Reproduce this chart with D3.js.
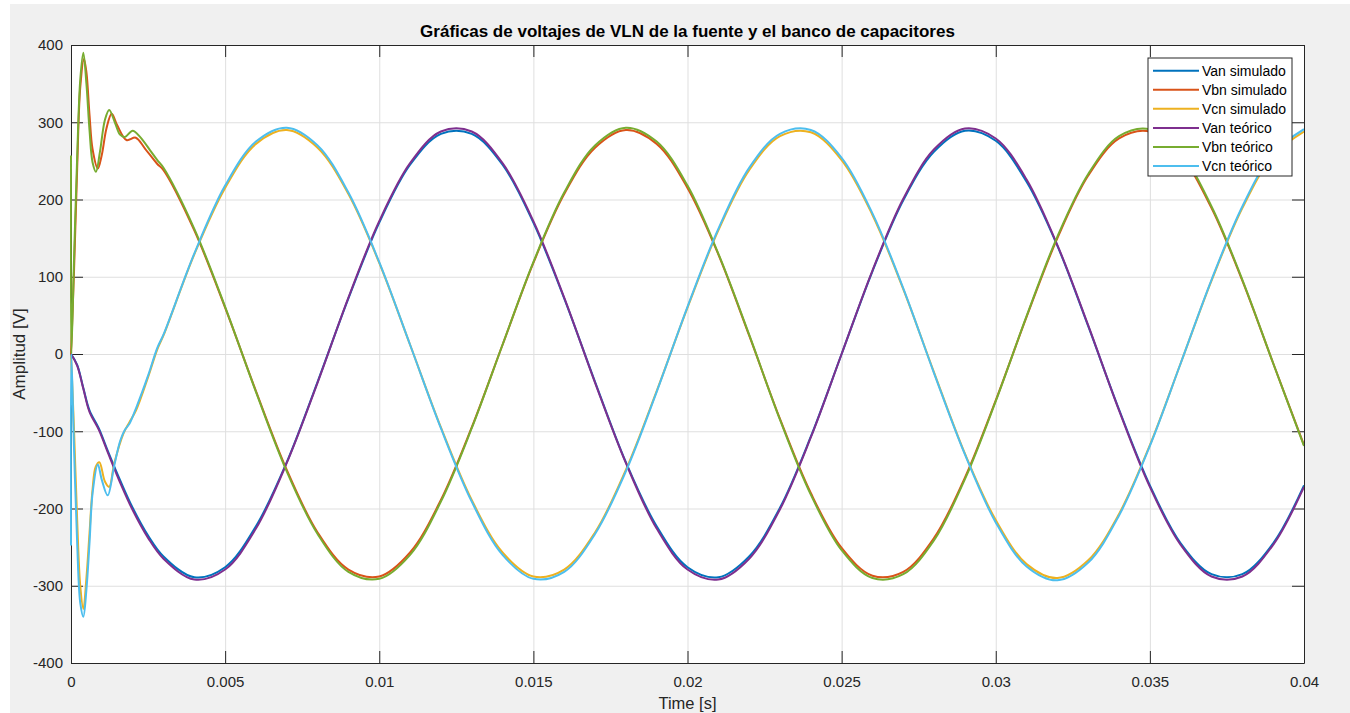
<!DOCTYPE html>
<html>
<head>
<meta charset="utf-8">
<script src="https://cdn.jsdelivr.net/npm/d3@7"></script>
<style>
body { margin: 0; background: #fff; }
svg { display: block; font-family: "Liberation Sans", Arial, sans-serif; }
</style>
</head>
<body>
<svg id="chart" width="1350" height="713"></svg>
<script>
// time grid of the steady part (s)
const time = [0.003, 0.004, 0.005, 0.006, 0.007, 0.008, 0.009, 0.010, 0.011, 0.012,
              0.013, 0.014, 0.015, 0.016, 0.017, 0.018, 0.019, 0.020, 0.021, 0.022,
              0.023, 0.024, 0.025, 0.026, 0.027, 0.028, 0.029, 0.030, 0.031, 0.032,
              0.033, 0.034, 0.035, 0.036, 0.037, 0.038, 0.039, 0.040];

// first 3 ms, [t, v]
const vanSimStart = [[0,0],[0.0002,-14],[0.0004,-44],[0.0006,-73],[0.0009,-96],[0.0012,-126],[0.0016,-164],[0.002,-199],[0.0025,-235]];
const vbnSimStart = [[0,0],[0.0001,110],[0.0002,240],[0.0003,345],[0.00042,382],[0.0005,365],[0.0006,310],[0.0007,265],[0.00087,240],[0.001,258],[0.00115,292],[0.00132,311],[0.0015,296],[0.0018,277],[0.0021,280],[0.0024,266],[0.0028,246]];
const vcnSimStart = [[0,0],[0.0001,-100],[0.0002,-215],[0.0003,-300],[0.0004,-330],[0.0005,-290],[0.0006,-232],[0.0007,-175],[0.0008,-146],[0.00092,-140],[0.0011,-165],[0.00124,-172],[0.0014,-142],[0.0017,-103],[0.0019,-88],[0.00211,-73],[0.0025,-30],[0.0028,6]];
const vanTeoStart = [[0,0],[0.0002,-15],[0.0004,-45],[0.0006,-75],[0.0009,-98],[0.0012,-128],[0.0016,-167],[0.002,-202],[0.0025,-238]];
const vbnTeoStart = [[0,257],[0.00001,0],[0.0001,125],[0.0002,255],[0.0003,355],[0.0004,390],[0.0005,350],[0.0006,290],[0.0007,248],[0.00081,236],[0.00094,262],[0.0011,303],[0.00124,316],[0.00143,299],[0.00159,284],[0.00175,281],[0.002,289],[0.00224,281],[0.00256,264],[0.0028,251]];
const vcnTeoStart = [[0,-248],[0.00001,0],[0.0001,-125],[0.0002,-245],[0.0003,-322],[0.0004,-340],[0.0005,-305],[0.0006,-245],[0.0007,-180],[0.00087,-143],[0.001,-163],[0.00119,-183],[0.0014,-145],[0.0016,-112],[0.00175,-98],[0.0019,-90],[0.00213,-68],[0.0025,-28],[0.0028,8]];

// values on the time grid (V)
const vanSim = [-262,-289,-276,-223,-140,-36,72,170,245,285,285,245,170,72,-36,-140,-223,-276,-289,-262,-199,-107,0,107,199,262,289,276,223,140,36,-72,-170,-245,-285,-285,-245,-170];
const vbnSim = [238,160,60,-48,-150,-231,-279,-288,-257,-189,-95,12,118,207,267,290,272,215,129,24,-84,-180,-251,-287,-282,-238,-160,-60,48,150,231,279,288,257,189,95,-12,-118];
const vcnSim = [24,129,215,272,290,267,207,118,12,-95,-189,-257,-288,-279,-231,-150,-48,60,160,238,282,287,251,180,84,-24,-129,-215,-272,-290,-267,-207,-118,-12,95,189,257,288];
const vanTeo = [-265,-292,-279,-226,-141,-37,73,172,247,288,288,247,172,73,-37,-141,-226,-279,-292,-265,-201,-108,0,108,201,265,292,279,226,141,37,-73,-172,-247,-288,-288,-247,-172];
const vbnTeo = [241,162,61,-49,-152,-233,-282,-291,-260,-191,-96,12,119,209,270,293,275,218,130,25,-85,-182,-254,-290,-285,-241,-162,-61,49,152,233,282,291,260,191,96,-12,-119];
const vcnTeo = [25,130,218,275,293,270,209,119,12,-96,-191,-260,-291,-282,-233,-152,-49,61,162,241,285,290,254,182,85,-25,-130,-218,-275,-293,-270,-209,-119,-12,96,191,260,291];

const seriesNames = ['Van simulado', 'Vbn simulado', 'Vcn simulado', 'Van teórico', 'Vbn teórico', 'Vcn teórico'];
const seriesColors = ['#0072BD', '#D95319', '#EDB120', '#7E2F8E', '#77AC30', '#4DBEEE'];
const starts = [vanSimStart, vbnSimStart, vcnSimStart, vanTeoStart, vbnTeoStart, vcnTeoStart];
const values = [vanSim, vbnSim, vcnSim, vanTeo, vbnTeo, vcnTeo];

const xTicks = [0, 0.005, 0.01, 0.015, 0.02, 0.025, 0.03, 0.035, 0.04];
const yTicks = [-400, -300, -200, -100, 0, 100, 200, 300, 400];

const plotLeft = 71, plotRight = 1304, plotTop = 45, plotBottom = 663;
const W = plotRight - plotLeft, H = plotBottom - plotTop;

const series = seriesNames.map((name, k) => ({
    name: name,
    color: seriesColors[k],
    points: starts[k].concat(time.map((t, i) => [t, values[k][i]]))
}));

const svg = d3.select('#chart');

// figure background
svg.append('rect')
    .attr('x', 10).attr('y', 4)
    .attr('width', 1340).attr('height', 709)
    .attr('fill', '#f0f0f0');

const x = d3.scaleLinear().domain([0, 0.04]).range([plotLeft, plotRight]);
const y = d3.scaleLinear().domain([-400, 400]).range([plotBottom, plotTop]);

svg.append('rect')
    .attr('x', plotLeft).attr('y', plotTop)
    .attr('width', W).attr('height', H)
    .attr('fill', '#fff');

// grid
svg.append('g')
    .attr('transform', `translate(0,${plotBottom})`)
    .call(d3.axisBottom(x).tickValues(xTicks).tickSize(-H).tickFormat(''))
    .call(g => g.select('.domain').remove())
    .call(g => g.selectAll('line').attr('stroke', '#dfdfdf'));
svg.append('g')
    .attr('transform', `translate(${plotLeft},0)`)
    .call(d3.axisLeft(y).tickValues(yTicks).tickSize(-W).tickFormat(''))
    .call(g => g.select('.domain').remove())
    .call(g => g.selectAll('line').attr('stroke', '#dfdfdf'));

// axes with inner ticks on all four sides
const axisColor = '#262626';
function styleAxis(g) {
    g.select('.domain').attr('stroke', axisColor);
    g.selectAll('line').attr('stroke', axisColor);
    g.selectAll('text').attr('fill', axisColor).style('font-size', '15px');
}
svg.append('g')
    .attr('transform', `translate(0,${plotBottom})`)
    .call(d3.axisBottom(x).tickValues(xTicks).tickSize(-12).tickSizeOuter(0).tickPadding(13).tickFormat(d => String(d)))
    .call(styleAxis);
svg.append('g')
    .attr('transform', `translate(0,${plotTop})`)
    .call(d3.axisTop(x).tickValues(xTicks).tickSize(-12).tickSizeOuter(0).tickFormat(''))
    .call(styleAxis);
svg.append('g')
    .attr('transform', `translate(${plotLeft},0)`)
    .call(d3.axisLeft(y).tickValues(yTicks).tickSize(-12).tickSizeOuter(0).tickPadding(8).tickFormat(d => String(d)))
    .call(styleAxis);
svg.append('g')
    .attr('transform', `translate(${plotRight},0)`)
    .call(d3.axisRight(y).tickValues(yTicks).tickSize(-12).tickSizeOuter(0).tickFormat(''))
    .call(styleAxis);
svg.selectAll('.domain').attr('stroke-width', 1);

// curves
svg.append('clipPath').attr('id', 'plot-clip')
    .append('rect').attr('x', plotLeft - 1).attr('y', plotTop).attr('width', W + 1).attr('height', H);

const line = d3.line()
    .x(d => x(d[0]))
    .y(d => y(d[1]))
    .curve(d3.curveCatmullRom.alpha(0.5));

svg.append('g')
    .attr('clip-path', 'url(#plot-clip)')
    .selectAll('path')
    .data(series)
    .enter()
    .append('path')
    .attr('d', d => line(d.points))
    .attr('fill', 'none')
    .attr('stroke', d => d.color)
    .attr('stroke-width', 2)
    .attr('stroke-linejoin', 'round');

// title and labels
svg.append('text')
    .attr('x', (plotLeft + plotRight) / 2).attr('y', 37)
    .attr('text-anchor', 'middle')
    .style('font-size', '17px')
    .style('font-weight', 'bold')
    .attr('fill', '#000')
    .text('Gráficas de voltajes de VLN de la fuente y el banco de capacitores');

svg.append('text')
    .attr('x', (plotLeft + plotRight) / 2).attr('y', 709)
    .attr('text-anchor', 'middle')
    .style('font-size', '16.5px')
    .attr('fill', axisColor)
    .text('Time [s]');

svg.append('text')
    .attr('transform', `translate(25,${(plotTop + plotBottom) / 2}) rotate(-90)`)
    .attr('text-anchor', 'middle')
    .style('font-size', '17px')
    .attr('fill', axisColor)
    .text('Amplitud [V]');

// legend
const legend = svg.append('g');
legend.append('rect')
    .attr('x', 1148).attr('y', 58)
    .attr('width', 144).attr('height', 118)
    .attr('fill', '#fff')
    .attr('stroke', axisColor)
    .attr('stroke-width', 1);

const entry = legend.selectAll('g.entry')
    .data(series)
    .enter()
    .append('g')
    .attr('class', 'entry')
    .attr('transform', (d, i) => `translate(0,${70.7 + i * 19.06})`);
entry.append('line')
    .attr('x1', 1153).attr('x2', 1199)
    .attr('stroke', d => d.color)
    .attr('stroke-width', 2);
entry.append('text')
    .attr('x', 1202)
    .attr('dy', '0.35em')
    .style('font-size', '14px')
    .attr('fill', '#000')
    .text(d => d.name);
</script>
</body>
</html>
